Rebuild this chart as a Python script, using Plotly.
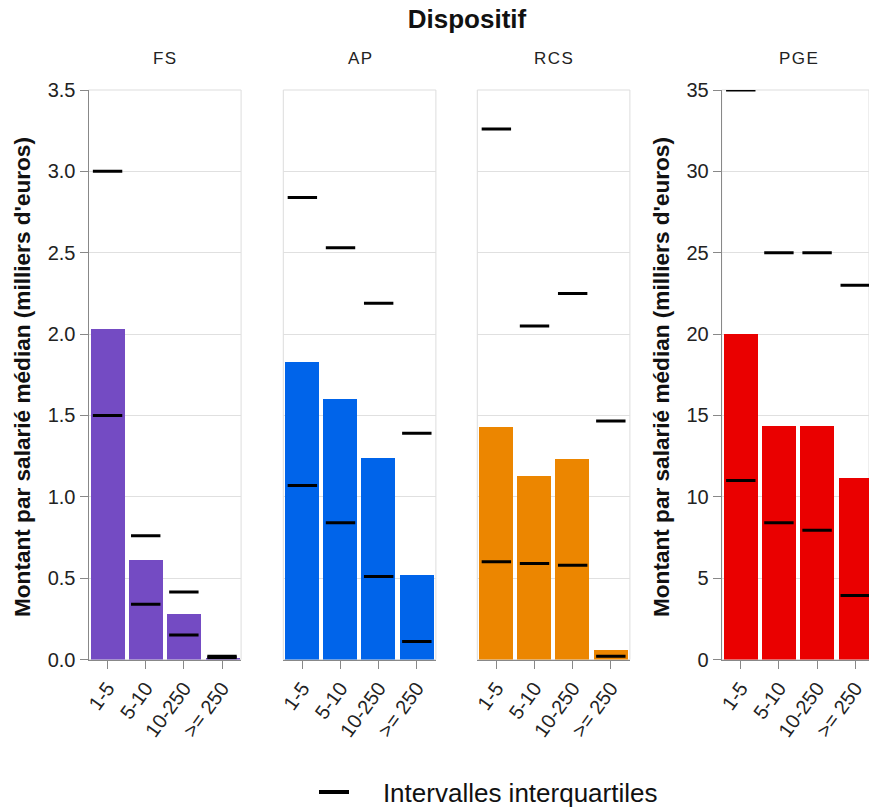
import plotly.graph_objects as go

W, H = 869, 807

categories = ["1-5", "5-10", "10-250", ">= 250"]
dispositifs = ["FS", "AP", "RCS", "PGE"]
colors = ["#744BC3", "#0064EA", "#EC8600", "#EA0000"]

median_FS = [2.03, 0.61, 0.28, 0.005]
q1_FS = [1.50, 0.34, 0.15, 0.01]
q3_FS = [3.00, 0.76, 0.415, 0.02]

median_AP = [1.83, 1.60, 1.24, 0.52]
q1_AP = [1.07, 0.84, 0.51, 0.11]
q3_AP = [2.84, 2.53, 2.19, 1.39]

median_RCS = [1.43, 1.13, 1.23, 0.06]
q1_RCS = [0.60, 0.59, 0.58, 0.02]
q3_RCS = [3.26, 2.05, 2.25, 1.465]

median_PGE = [20.0, 14.35, 14.35, 11.15]
q1_PGE = [11.0, 8.4, 7.95, 3.93]
q3_PGE = [35.0, 25.0, 25.0, 23.0]

title_text = "Dispositif"
y_title = "Montant par salarié médian (milliers d'euros)"
legend_label = "Intervalles interquartiles"

medians = [median_FS, median_AP, median_RCS, median_PGE]
q1s = [q1_FS, q1_AP, q1_RCS, q1_PGE]
q3s = [q3_FS, q3_AP, q3_RCS, q3_PGE]

FONT = "Liberation Sans"

# panel pixel geometry (layout only)
px_left = [88.5, 283.3, 477.3, 721.7]
px_width = 152.6
y_top_px, y_bot_px = 90, 659.5

fig = go.Figure()

for i in range(4):
    ax = "" if i == 0 else str(i + 1)
    fig.add_trace(go.Bar(
        x=categories, y=medians[i], width=0.89,
        marker=dict(color=colors[i], line=dict(width=0)),
        xaxis="x" + ax, yaxis="y" + ax, showlegend=False,
    ))
    fig.add_trace(go.Scatter(
        x=categories + categories, y=q1s[i] + q3s[i], mode="markers",
        marker=dict(symbol="line-ew", size=21, color="black",
                    line=dict(width=3, color="black")),
        xaxis="x" + ax, yaxis="y" + ax, showlegend=False,
    ))

# legend-only trace
fig.add_trace(go.Scatter(
    x=[None], y=[None], mode="lines", line=dict(color="black", width=4),
    name="\u00a0\u00a0\u00a0\u00a0" + legend_label, showlegend=True,
    xaxis="x", yaxis="y",
))

layout = dict(
    width=W, height=H, autosize=False,
    margin=dict(l=0, r=0, t=0, b=0, pad=0, autoexpand=False),
    paper_bgcolor="white", plot_bgcolor="white",
    hovermode=False,
    font=dict(family=FONT, color="#222"),
    bargap=0,
    showlegend=True,
    legend=dict(orientation="h", x=314 / W, xanchor="left",
                y=1 - 792 / H, yanchor="middle",
                font=dict(family=FONT, size=26, color="#111"),
                bgcolor="rgba(0,0,0,0)"),
    title=dict(text="<b>" + title_text + "</b>", x=467 / W, xanchor="center",
               y=1 - 19 / H, yanchor="middle", automargin=False,
               font=dict(family=FONT, size=26, color="#111")),
)

yd = [1 - y_bot_px / H, 1 - y_top_px / H]
shapes = []
annotations = []
for i in range(4):
    ax = "" if i == 0 else str(i + 1)
    x0 = px_left[i] / W
    x1 = min(1.0, (px_left[i] + px_width) / W)
    visible_px = min(px_width, W - px_left[i])
    xr_max = -0.5 + 4 * visible_px / px_width
    layout["xaxis" + ax] = dict(
        domain=[x0, x1], anchor="y" + ax, type="category", automargin=False,
        range=[-0.5, xr_max], categoryorder="array", categoryarray=categories,
        showline=True, linecolor="#888", linewidth=1,
        ticks="outside", ticklen=8, tickcolor="#888",
        tickangle=-54, tickfont=dict(family=FONT, size=20, color="#222"),
        showgrid=False, zeroline=False, fixedrange=True,
    )
    is_pge = i == 3
    show_axis = i in (0, 3)
    layout["yaxis" + ax] = dict(
        domain=yd, anchor="x" + ax, automargin=False,
        range=[0, 35 if is_pge else 3.5],
        dtick=5 if is_pge else 0.5,
        tickformat="d" if is_pge else ".1f",
        showticklabels=show_axis,
        ticks="outside" if show_axis else "", ticklen=8, tickcolor="#888",
        showline=show_axis, linecolor="#888", linewidth=1,
        showgrid=True, gridcolor="#e0e0e0", gridwidth=1,
        zeroline=False,
        tickfont=dict(family=FONT, size=20, color="#222"),
        fixedrange=True,
    )
    shapes.append(dict(type="rect", xref="x" + ax + " domain", yref="y" + ax + " domain",
                       x0=0, x1=1, y0=0, y1=1, line=dict(color="#dddddd", width=1),
                       layer="below"))
    annotations.append(dict(
        text="\u200a".join(dispositifs[i]), xref="paper", yref="paper",
        x=(px_left[i] + px_width / 2) / W, y=1 - 59 / H,
        xanchor="center", yanchor="middle", showarrow=False,
        font=dict(family=FONT, size=17, color="#222"),
    ))

for xpx in (22, 661):
    annotations.append(dict(
        text="<b>" + y_title + "</b>", xref="paper", yref="paper",
        x=xpx / W, y=1 - 377 / H, xanchor="center", yanchor="middle",
        textangle=-90, showarrow=False,
        font=dict(family=FONT, size=22.6, color="#111"),
    ))

layout["shapes"] = shapes
layout["annotations"] = annotations
fig.update_layout(**layout)

fig.write_html(
    "out.html",
    config={"displayModeBar": False},
    post_script="document.body.style.margin='0';document.body.style.overflow='hidden';",
)
